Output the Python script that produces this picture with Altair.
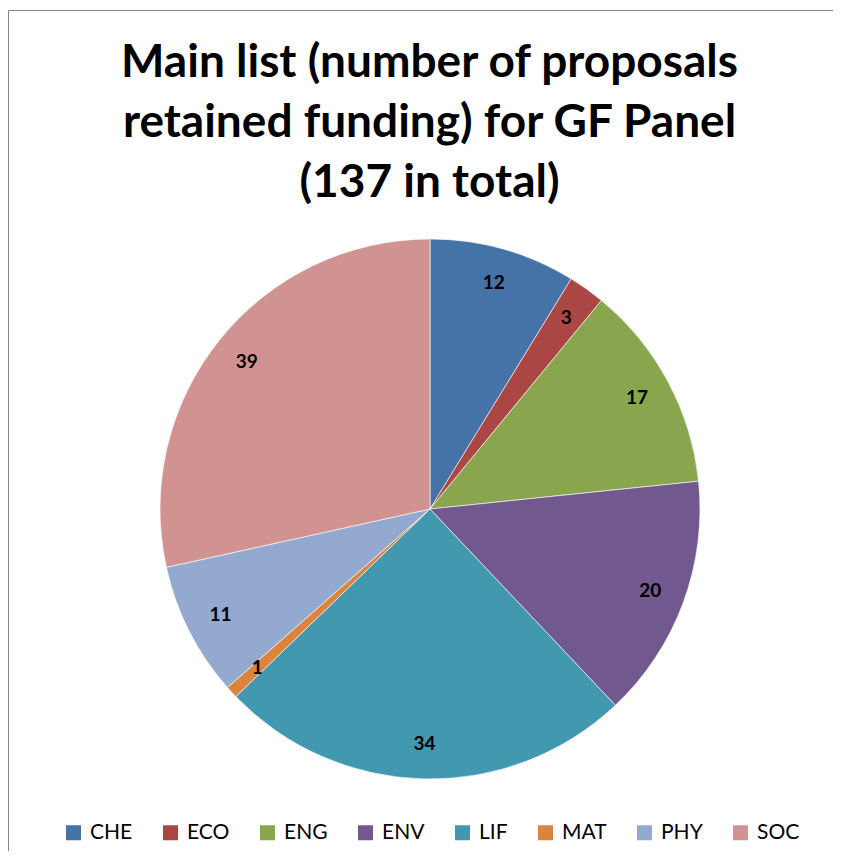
import altair as alt
import pandas as pd

categories = ["CHE", "ECO", "ENG", "ENV", "LIF", "MAT", "PHY", "SOC"]
counts = [12, 3, 17, 20, 34, 1, 11, 39]
colors = ["#4572A7", "#AA4643", "#89A54E", "#71588F", "#4198AF", "#DB843D", "#93A9CF", "#D19392"]
title_lines = ["Main list (number of proposals", "retained funding) for GF Panel", "(137 in total)"]

df = pd.DataFrame({"panel": categories, "count": counts, "idx": list(range(len(categories)))})

FONT = "Lato, Liberation Sans, sans-serif"
CX, CY, R = 422, 499, 270

base = alt.Chart(df).encode(
    theta=alt.Theta("count:Q", stack=True),
    order=alt.Order("idx:Q"),
    color=alt.Color(
        "panel:N",
        scale=alt.Scale(domain=categories, range=colors),
        legend=alt.Legend(
            title=None,
            orient="none",
            direction="horizontal",
            legendX=55,
            legendY=812,
            symbolType="square",
            symbolSize=225,
            symbolStrokeWidth=0,
            symbolOpacity=1,
            labelFont=FONT,
            labelFontSize=21,
            labelColor="#000000",
            labelOffset=6,
            columnPadding=27,
            padding=0,
        ),
    ),
)

pie = base.mark_arc(outerRadius=R, stroke="#ffffff", strokeWidth=0.6).encode(
    x=alt.value(CX), y=alt.value(CY)
)

labels = base.mark_text(
    radius=235, font=FONT, fontSize=19, fontWeight="bold"
).encode(
    x=alt.value(CX), y=alt.value(CY), text="count:Q", color=alt.value("#000000")
)

chart = (
    alt.layer(pie, labels)
    .properties(
        width=835,
        height=857,
        padding={"left": 0, "top": 2, "right": -10, "bottom": -16},
        autosize=alt.AutoSizeParams(type="none"),
        title=alt.TitleParams(
            text=title_lines,
            font=FONT,
            fontSize=46,
            fontWeight="bold",
            color="#000000",
            anchor="middle",
            frame="group",
            lineHeight=60,
            offset=-197,
            dx=4,
        ),
    )
    .configure_view(stroke="#868686", strokeWidth=1)
)

chart.save("out.html", embed_options={"renderer": "svg", "actions": False})
